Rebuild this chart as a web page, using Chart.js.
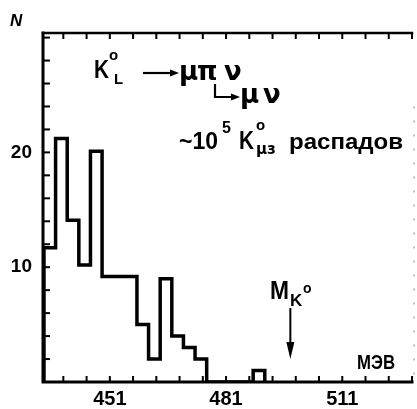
<!DOCTYPE html>
<html><head><meta charset="utf-8">
<script src="https://cdn.jsdelivr.net/npm/chart.js@4.4.1/dist/chart.umd.min.js"></script>
<style>html,body{margin:0;padding:0;background:#fff}</style>
</head><body>
<canvas id="c" width="417" height="409"></canvas>
<script>
// Histogram bin edges (MeV) and counts
const binEdges = [434,437,440,443,446,449,452,455,458,461,464,467,470,473,476,479,482,485,488,491];
const counts   = [11.7,21.2,14.1,10.2,20.1,9.2,9.2,9.2,5,2,9,4,3,2,0,0,0,0,1];
// Axis ticks and labels
const xTicks = [439,445,451,457,463,469,475,481,487,493,499,505,511,517,523,529];
const xTickLabels = [451,481,511];
const yTicks = [0,2,4,6,8,10,12,14,16,18,20,22,24,26,28,30];
const yTickLabels = [10,20];
const kaonMass = 497.6;

const FONT = '"Liberation Sans","DejaVu Sans",sans-serif';

const points = [{x:binEdges[0], y:0}].concat(binEdges.map((e,i)=>({x:e, y: i<counts.length ? counts[i] : 0})));

// draw text squeezed/stretched horizontally to a given width
function fitText(ctx, txt, x, y, width){
  const w = ctx.measureText(txt).width;
  ctx.save();
  ctx.translate(x, y);
  ctx.scale(width / w, 1);
  ctx.fillText(txt, 0, 0);
  ctx.restore();
}

const deco = {
  id:'deco',
  afterDraw(chart){
    const ctx = chart.ctx, a = chart.chartArea;
    const xs = chart.scales.x, ys = chart.scales.y;
    ctx.save();
    ctx.strokeStyle = '#000'; ctx.fillStyle = '#000';
    ctx.lineCap = 'square';
    // axes
    ctx.lineWidth = 3;
    ctx.beginPath();
    ctx.moveTo(a.left, a.top); ctx.lineTo(a.left, a.bottom); ctx.lineTo(a.right, a.bottom);
    ctx.stroke();
    ctx.lineWidth = 2.5;
    ctx.beginPath(); ctx.moveTo(a.left, a.top); ctx.lineTo(a.right, a.top); ctx.stroke();
    // inner ticks
    ctx.lineWidth = 2;
    ctx.lineCap = 'butt';
    yTicks.forEach(v=>{ const y = ys.getPixelForValue(v); ctx.beginPath(); ctx.moveTo(a.left, y); ctx.lineTo(a.left+7, y); ctx.stroke(); });
    xTicks.forEach(v=>{ const x = xs.getPixelForValue(v);
      ctx.beginPath(); ctx.moveTo(x, a.bottom); ctx.lineTo(x, a.bottom-6); ctx.stroke();
      ctx.beginPath(); ctx.moveTo(x, a.top); ctx.lineTo(x, a.top+6); ctx.stroke(); });
    // faint dotted right edge
    ctx.strokeStyle = '#aaa'; ctx.lineWidth = 1.5; ctx.setLineDash([2,12]);
    ctx.beginPath(); ctx.moveTo(a.right+2, ys.getPixelForValue(24)); ctx.lineTo(a.right+2, a.bottom); ctx.stroke();
    ctx.setLineDash([]); ctx.strokeStyle = '#000';

    // N
    ctx.font = 'italic bold 17px ' + FONT; ctx.textBaseline = 'alphabetic'; ctx.textAlign = 'left';
    ctx.fillText('N', 10, 26);

    // K_L^0 -> mu pi nu
    ctx.font = 'bold 26px ' + FONT;
    fitText(ctx, 'K', 94, 78, 15);
    ctx.font = 'bold 15px ' + FONT;
    ctx.fillText('o', 109, 60);
    ctx.fillText('L', 114, 84);
    ctx.lineWidth = 2.2;
    ctx.beginPath(); ctx.moveTo(143, 73); ctx.lineTo(172, 73); ctx.stroke();
    ctx.beginPath(); ctx.moveTo(179, 73); ctx.lineTo(170, 69.5); ctx.lineTo(170, 76.5); ctx.closePath(); ctx.fill();
    ctx.font = 'bold 26px "DejaVu Sans",' + FONT;
    ctx.fillText('μ', 179, 80);
    ctx.fillText('π', 197, 80);
    ctx.fillText('ν', 224, 80);
    // second line
    ctx.beginPath(); ctx.moveTo(215, 84); ctx.lineTo(215, 97); ctx.lineTo(232, 97); ctx.stroke();
    ctx.beginPath(); ctx.moveTo(240, 97); ctx.lineTo(231, 93.5); ctx.lineTo(231, 100.5); ctx.closePath(); ctx.fill();
    ctx.fillText('μ', 240, 103);
    ctx.fillText('ν', 263, 103);

    // ~10^5 K^0_mu3 распадов
    ctx.font = 'bold 24px ' + FONT;
    fitText(ctx, '~10', 179, 149, 39);
    ctx.font = 'bold 16px ' + FONT;
    ctx.fillText('5', 222, 133);
    ctx.font = 'bold 25px ' + FONT;
    fitText(ctx, 'K', 239, 149, 15);
    ctx.font = 'bold 15px ' + FONT;
    ctx.fillText('o', 256, 130);
    ctx.font = 'bold 15px "DejaVu Sans",' + FONT;
    ctx.fillText('μз', 256, 154);
    ctx.font = 'bold 22px ' + FONT;
    fitText(ctx, 'распадов', 289, 149, 114);

    // M_K0 arrow at the kaon mass
    const xm = xs.getPixelForValue(kaonMass);
    ctx.font = 'bold 25px ' + FONT;
    fitText(ctx, 'M', 270, 299, 19);
    ctx.font = 'bold 17px ' + FONT;
    ctx.fillText('K', 290, 306);
    ctx.font = 'bold 14px ' + FONT;
    ctx.fillText('o', 303, 293);
    ctx.lineWidth = 2;
    ctx.beginPath(); ctx.moveTo(xm, 308); ctx.lineTo(xm, 348); ctx.stroke();
    ctx.beginPath(); ctx.moveTo(xm, 359); ctx.lineTo(xm-4, 342); ctx.lineTo(xm+4, 342); ctx.closePath(); ctx.fill();

    // units
    ctx.font = 'bold 21px ' + FONT;
    fitText(ctx, 'МЭВ', 357, 369, 38);
    ctx.restore();
  }
};

new Chart(document.getElementById('c'), {
  type:'line',
  data:{ datasets:[{ data: points, stepped:'before', borderColor:'#000', borderWidth:3.5, pointRadius:0, fill:false, tension:0 }]},
  options:{
    responsive:false, devicePixelRatio:1, animation:false,
    layout:{ padding:{ left:0, right:4, top:33, bottom:0 } },
    plugins:{ legend:{display:false}, tooltip:{enabled:false} },
    scales:{
      x:{ type:'linear', min:433.75, max:529.0,
          afterFit(s){ s.height = 27; },
          afterBuildTicks(s){ s.ticks = xTicks.map(v=>({value:v})); },
          grid:{display:false, drawTicks:false}, border:{display:false},
          ticks:{ autoSkip:false, maxRotation:0, padding:5, color:'#000',
                  font:{family:FONT, size:20, weight:'bold'},
                  callback:(v)=> xTickLabels.includes(v) ? String(v) : '' } },
      y:{ type:'linear', min:0, max:30.4,
          afterFit(s){ s.width = 43; },
          afterBuildTicks(s){ s.ticks = yTicks.map(v=>({value:v})); },
          grid:{display:false, drawTicks:false}, border:{display:false},
          ticks:{ autoSkip:false, padding:11, color:'#000',
                  font:{family:FONT, size:19, weight:'bold'},
                  callback:(v)=> yTickLabels.includes(v) ? String(v) : '' } }
    }
  },
  plugins:[deco]
});
</script>
</body></html>
